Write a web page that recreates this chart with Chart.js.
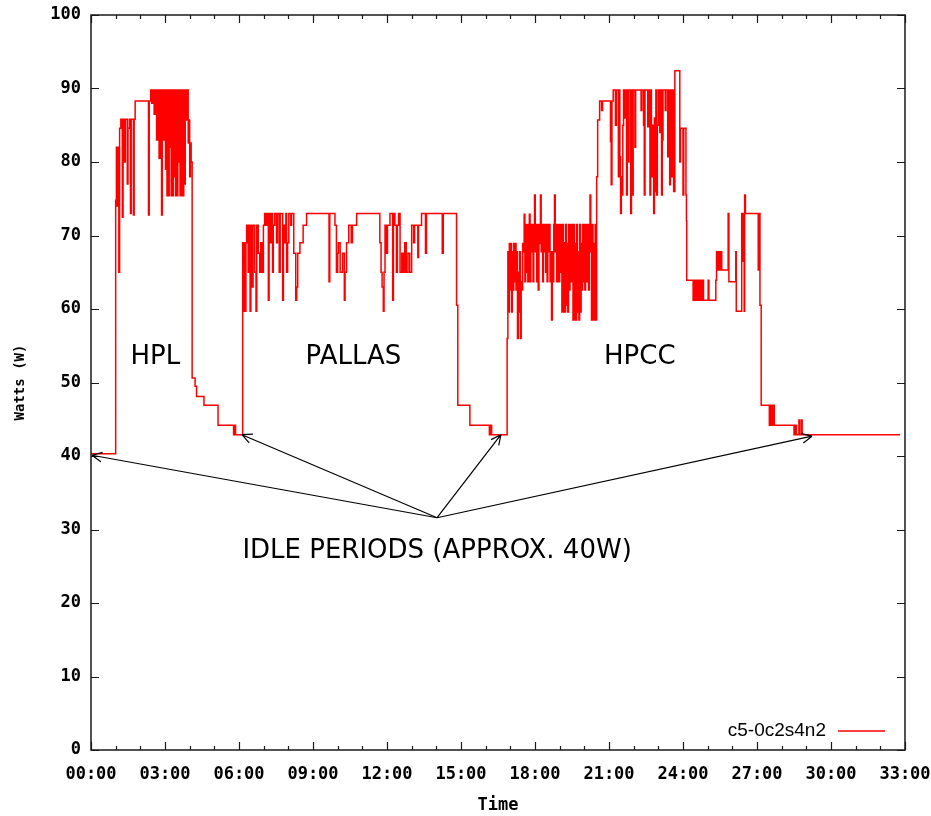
<!DOCTYPE html>
<html>
<head>
<meta charset="utf-8">
<title>c5-0c2s4n2 power trace</title>
<script src="https://cdn.jsdelivr.net/npm/chart.js@4.4.1/dist/chart.umd.min.js"></script>
<style>
  html, body { margin: 0; padding: 0; background: #fff; }
</style>
</head>
<body>
<canvas id="power-chart" width="931" height="816"></canvas>
<script>
// series name (legend)
const seriesName = 'c5-0c2s4n2';

// [time in hours, watts]
const idleBefore = [[0.00, 40.3]];

const hplTrace = [
  [1.00, 74.8], [1.03, 82.0], [1.06, 74.0], [1.09, 82.0], [1.13, 65.0], [1.16, 84.6],
  [1.21, 85.8], [1.27, 72.5], [1.30, 85.8], [1.36, 80.0], [1.39, 85.8], [1.47, 77.0],
  [1.50, 84.6], [1.55, 85.8], [1.60, 73.0], [1.63, 85.8], [1.72, 72.8], [1.75, 85.8],
  [1.79, 88.3], [2.33, 72.8], [2.36, 88.3], [2.42, 89.8], [2.46, 88.0], [2.50, 89.8],
  [2.56, 86.5], [2.60, 89.8], [2.66, 83.0], [2.70, 89.8], [2.76, 80.5], [2.80, 89.8],
  [2.86, 72.8], [2.89, 89.8], [2.95, 83.0], [2.98, 89.8], [3.02, 79.0], [3.05, 89.8],
  [3.08, 75.4], [3.11, 89.8], [3.14, 75.4], [3.17, 89.8], [3.19, 82.0], [3.22, 89.8],
  [3.25, 75.4], [3.28, 89.8], [3.31, 75.4], [3.34, 89.8], [3.37, 78.0], [3.40, 89.8],
  [3.43, 75.4], [3.46, 89.8], [3.49, 75.4], [3.52, 89.8], [3.55, 80.0], [3.58, 89.8],
  [3.61, 75.4], [3.64, 89.8], [3.67, 75.4], [3.70, 89.8], [3.73, 75.4], [3.76, 89.8],
  [3.79, 77.0], [3.82, 89.8], [3.87, 85.7], [3.91, 89.8], [3.94, 82.6], [3.97, 85.7],
  [4.00, 78.0], [4.03, 82.6], [4.06, 80.0], [4.10, 50.6], [4.22, 49.5], [4.28, 48.1],
  [4.58, 46.9], [5.15, 44.2], [5.78, 42.9], [5.80, 44.2], [5.82, 42.9], [5.84, 44.2],
  [5.86, 42.9]
];

const pallasTrace = [
  [6.15, 69.0], [6.19, 59.7], [6.22, 69.0], [6.26, 59.7], [6.28, 69.0], [6.31, 71.4],
  [6.37, 65.0], [6.40, 71.4], [6.45, 59.7], [6.48, 71.4], [6.54, 63.0], [6.57, 71.4],
  [6.64, 65.0], [6.69, 59.7], [6.72, 71.4], [6.78, 67.6], [6.84, 65.0], [6.88, 69.0],
  [6.94, 65.0], [6.99, 71.4], [7.04, 73.0], [7.09, 71.4], [7.14, 73.0], [7.19, 61.2],
  [7.22, 73.0], [7.27, 69.0], [7.31, 73.0], [7.36, 65.0], [7.39, 71.4], [7.45, 73.0],
  [7.52, 69.0], [7.56, 73.0], [7.63, 65.0], [7.67, 73.0], [7.77, 61.2], [7.80, 71.4],
  [7.86, 69.0], [7.90, 73.0], [7.93, 65.0], [7.97, 69.0], [8.02, 73.0], [8.10, 71.4],
  [8.13, 73.0], [8.22, 67.6], [8.30, 61.2], [8.34, 63.0], [8.38, 67.6], [8.47, 69.0],
  [8.60, 71.4], [8.74, 73.0], [9.65, 63.7], [9.68, 73.0], [9.89, 71.4], [9.95, 65.0],
  [10.00, 67.6], [10.03, 69.0], [10.10, 65.0], [10.20, 67.6], [10.27, 61.2], [10.30, 65.0],
  [10.36, 69.0], [10.45, 71.4], [10.55, 69.0], [10.60, 71.4], [10.77, 73.0], [11.71, 69.0],
  [11.76, 65.0], [11.80, 63.0], [11.85, 59.7], [11.88, 65.0], [11.92, 71.4], [11.98, 67.6],
  [12.02, 71.4], [12.12, 73.0], [12.23, 61.2], [12.26, 73.0], [12.32, 71.4], [12.38, 65.0],
  [12.42, 71.4], [12.47, 73.0], [12.53, 65.0], [12.60, 67.6], [12.66, 65.0], [12.72, 69.0],
  [12.78, 65.0], [12.85, 67.6], [12.92, 65.0], [13.00, 71.4], [13.08, 69.0], [13.12, 71.4],
  [13.25, 67.0], [13.28, 71.4], [13.40, 73.0], [13.56, 67.6], [13.60, 73.0], [14.24, 67.6],
  [14.28, 73.0], [14.82, 60.5], [14.87, 46.9], [15.36, 44.2], [16.15, 42.9], [16.20, 44.2],
  [16.24, 42.9]
];

const hpccTrace = [
  [16.87, 56.0], [16.90, 67.8], [16.93, 59.6], [16.96, 68.9], [16.99, 62.6], [17.02, 68.9],
  [17.05, 59.6], [17.08, 67.8], [17.11, 62.6], [17.14, 68.9], [17.17, 63.7], [17.20, 68.9],
  [17.23, 62.6], [17.26, 67.8], [17.29, 56.0], [17.32, 65.0], [17.35, 59.6], [17.38, 67.8],
  [17.41, 56.0], [17.44, 63.7], [17.47, 62.6], [17.50, 68.9], [17.53, 67.8], [17.56, 72.9],
  [17.59, 63.7], [17.62, 71.5], [17.65, 65.0], [17.68, 71.5], [17.71, 63.7], [17.74, 68.9],
  [17.77, 72.9], [17.80, 63.7], [17.83, 71.5], [17.86, 67.8], [17.89, 71.5], [17.92, 63.7],
  [17.95, 67.8], [17.98, 75.5], [18.01, 67.8], [18.04, 71.5], [18.07, 63.7], [18.10, 71.5],
  [18.13, 62.6], [18.16, 68.9], [18.19, 71.5], [18.22, 75.5], [18.25, 67.8], [18.28, 71.5],
  [18.31, 63.7], [18.34, 71.5], [18.37, 67.8], [18.40, 71.5], [18.43, 65.0], [18.46, 71.5],
  [18.49, 63.7], [18.52, 71.5], [18.55, 67.8], [18.58, 71.5], [18.61, 63.7], [18.64, 67.8],
  [18.67, 58.5], [18.70, 67.8], [18.73, 63.7], [18.76, 71.5], [18.79, 75.5], [18.82, 67.8],
  [18.85, 71.5], [18.88, 63.7], [18.91, 67.8], [18.94, 71.5], [18.97, 63.7], [19.00, 67.8],
  [19.03, 71.5], [19.06, 65.0], [19.09, 59.6], [19.12, 71.5], [19.15, 59.6], [19.18, 69.0],
  [19.21, 59.6], [19.24, 71.5], [19.27, 60.5], [19.30, 68.9], [19.33, 59.6], [19.36, 71.5],
  [19.39, 62.6], [19.42, 71.5], [19.45, 63.7], [19.48, 67.8], [19.51, 71.5], [19.54, 58.5],
  [19.57, 71.5], [19.60, 58.5], [19.63, 68.9], [19.66, 58.5], [19.69, 71.5], [19.72, 59.6],
  [19.75, 67.8], [19.78, 58.5], [19.81, 71.5], [19.84, 59.6], [19.87, 68.9], [19.90, 62.6],
  [19.93, 71.5], [19.96, 63.7], [19.99, 71.5], [20.02, 62.6], [20.05, 67.8], [20.08, 71.5],
  [20.11, 63.7], [20.14, 71.5], [20.17, 62.6], [20.20, 71.5], [20.23, 75.5], [20.26, 67.8],
  [20.29, 58.5], [20.32, 71.5], [20.35, 58.5], [20.38, 68.9], [20.41, 58.5], [20.44, 71.5],
  [20.47, 58.5], [20.50, 78.0], [20.54, 85.7], [20.62, 88.3], [20.70, 87.0], [20.74, 88.3],
  [21.06, 82.8], [21.09, 76.9], [21.12, 88.3], [21.17, 89.8], [21.26, 85.0], [21.30, 89.8],
  [21.38, 78.0], [21.41, 89.8], [21.44, 80.7], [21.47, 73.0], [21.50, 78.0], [21.53, 75.5],
  [21.56, 85.0], [21.59, 89.8], [21.65, 86.0], [21.68, 89.8], [21.71, 75.5], [21.74, 89.8],
  [21.78, 80.0], [21.81, 89.8], [21.88, 73.0], [21.91, 89.8], [21.95, 75.5], [21.98, 89.8],
  [22.05, 82.0], [22.08, 89.8], [22.30, 87.0], [22.33, 89.8], [22.40, 85.0], [22.43, 75.5],
  [22.46, 89.8], [22.57, 84.8], [22.62, 89.8], [22.66, 75.5], [22.69, 89.8], [22.72, 82.0],
  [22.75, 78.0], [22.78, 85.0], [22.81, 73.0], [22.84, 86.0], [22.87, 76.0], [22.90, 89.8],
  [22.93, 75.5], [22.96, 85.0], [23.00, 89.8], [23.06, 84.0], [23.09, 89.8], [23.13, 75.5],
  [23.16, 83.0], [23.19, 89.8], [23.28, 87.0], [23.31, 89.8], [23.38, 80.7], [23.41, 89.8],
  [23.46, 76.9], [23.49, 89.8], [23.52, 78.0], [23.58, 89.8], [23.62, 76.0], [23.67, 92.4],
  [23.87, 80.0], [23.90, 84.6], [24.00, 75.5], [24.03, 84.6], [24.12, 75.5], [24.14, 72.0],
  [24.15, 63.9], [24.41, 61.2], [24.44, 63.9], [24.47, 61.2], [24.50, 63.9], [24.53, 61.2],
  [24.56, 63.9], [24.59, 61.2], [24.62, 63.9], [24.65, 61.2], [24.68, 63.9], [24.71, 61.2],
  [24.74, 63.9], [24.77, 61.2], [24.80, 63.9], [24.83, 61.2], [25.02, 63.9], [25.05, 61.2],
  [25.33, 63.9], [25.36, 67.8], [25.39, 65.3], [25.42, 67.8], [25.45, 65.3], [25.48, 67.8],
  [25.51, 65.3], [25.54, 67.8], [25.57, 65.3], [25.83, 73.0], [25.86, 63.7], [26.14, 67.8],
  [26.16, 59.7], [26.38, 73.0], [26.44, 66.5], [26.46, 73.0], [26.48, 59.7], [26.50, 75.5],
  [26.53, 73.0], [27.05, 65.3], [27.08, 73.0], [27.12, 60.5], [27.17, 46.9], [27.50, 44.2],
  [27.53, 46.9], [27.56, 44.2], [27.59, 46.9], [27.62, 44.2], [27.65, 46.9], [27.70, 44.2],
  [28.50, 42.9], [28.55, 44.2], [28.60, 42.9], [28.70, 44.9], [28.73, 42.9], [28.80, 44.9],
  [28.83, 42.9], [32.80, 42.9]
];

// axis ticks
const xTickValues = [0, 3, 6, 9, 12, 15, 18, 21, 24, 27, 30, 33];
const xTickLabels = ['00:00', '03:00', '06:00', '09:00', '12:00', '15:00',
                     '18:00', '21:00', '24:00', '27:00', '30:00', '33:00'];
const yTickValues = [0, 10, 20, 30, 40, 50, 60, 70, 80, 90, 100];

// text labels placed in data coordinates [hours, watts]
const benchLabels = [
  { text: 'HPL', at: [2.61, 53.5] },
  { text: 'PALLAS', at: [10.64, 53.5] },
  { text: 'HPCC', at: [22.25, 53.5] },
  { text: 'IDLE PERIODS (APPROX. 40W)', at: [14.03, 27.1] }
];
const idleArrowFrom = [14.03, 31.6];
const idleArrowTo = [[0.04, 40.1], [6.12, 42.9], [16.62, 42.9], [29.23, 42.7]];

const monoFont = { family: "'DejaVu Sans Mono', monospace", size: 17, weight: 'bold' };

const trace = [].concat(idleBefore, hplTrace, pallasTrace, hpccTrace)
  .map(p => ({ x: p[0], y: p[1] }));

// gnuplot-ish frame, inward ticks, annotations and legend
const gnuplotDecor = {
  id: 'gnuplotDecor',
  afterDatasetsDraw(chart) {
    const ctx = chart.ctx;
    const xs = chart.scales.x;
    const ys = chart.scales.y;
    const a = chart.chartArea;
    ctx.save();

    // frame
    ctx.strokeStyle = '#1a1a1a';
    ctx.lineWidth = 1.5;
    ctx.strokeRect(a.left, a.top, a.right - a.left, a.bottom - a.top);

    // ticks (mirrored, pointing inward)
    ctx.lineWidth = 1.2;
    ctx.beginPath();
    for (let h = 0; h <= 33; h++) {
      const px = Math.round(xs.getPixelForValue(h)) + 0.5;
      const len = h % 3 === 0 ? 8 : 4;
      ctx.moveTo(px, a.bottom); ctx.lineTo(px, a.bottom - len);
      ctx.moveTo(px, a.top); ctx.lineTo(px, a.top + len);
    }
    yTickValues.forEach(v => {
      const py = Math.round(ys.getPixelForValue(v)) + 0.5;
      ctx.moveTo(a.left, py); ctx.lineTo(a.left + 8, py);
      ctx.moveTo(a.right, py); ctx.lineTo(a.right - 8, py);
    });
    ctx.stroke();

    // arrows to the idle periods
    const fx = xs.getPixelForValue(idleArrowFrom[0]);
    const fy = ys.getPixelForValue(idleArrowFrom[1]);
    ctx.strokeStyle = '#000';
    ctx.lineWidth = 1.2;
    idleArrowTo.forEach(t => {
      const tx = xs.getPixelForValue(t[0]);
      const ty = ys.getPixelForValue(t[1]);
      const ang = Math.atan2(ty - fy, tx - fx);
      const head = 11, spread = 0.45;
      ctx.beginPath();
      ctx.moveTo(fx, fy); ctx.lineTo(tx, ty);
      ctx.moveTo(tx, ty);
      ctx.lineTo(tx - head * Math.cos(ang - spread), ty - head * Math.sin(ang - spread));
      ctx.moveTo(tx, ty);
      ctx.lineTo(tx - head * Math.cos(ang + spread), ty - head * Math.sin(ang + spread));
      ctx.stroke();
    });

    // benchmark labels
    ctx.fillStyle = '#000';
    ctx.font = "26px 'DejaVu Sans', sans-serif";
    ctx.textAlign = 'center';
    ctx.textBaseline = 'middle';
    benchLabels.forEach(l => {
      ctx.fillText(l.text, xs.getPixelForValue(l.at[0]), ys.getPixelForValue(l.at[1]));
    });

    // legend, bottom right inside the frame
    const ly = a.bottom - 19;
    ctx.font = "19px 'Liberation Sans', Arial, sans-serif";
    ctx.textAlign = 'right';
    ctx.fillText(chart.data.datasets[0].label, a.right - 79, ly);
    ctx.strokeStyle = chart.data.datasets[0].borderColor;
    ctx.lineWidth = 1.5;
    ctx.beginPath();
    ctx.moveTo(a.right - 67, ly); ctx.lineTo(a.right - 20, ly);
    ctx.stroke();

    ctx.restore();
  }
};

new Chart(document.getElementById('power-chart'), {
  type: 'line',
  data: {
    datasets: [{
      label: seriesName,
      data: trace,
      borderColor: '#ff0000',
      borderWidth: 1.5,
      pointRadius: 0,
      stepped: 'before',
      fill: false
    }]
  },
  options: {
    responsive: false,
    animation: false,
    layout: { padding: { left: 0, right: 26, top: 15, bottom: 0 } },
    plugins: {
      legend: { display: false },
      tooltip: { enabled: false }
    },
    scales: {
      x: {
        type: 'linear',
        min: 0,
        max: 33,
        grid: { display: false, drawTicks: false },
        border: { display: false },
        afterBuildTicks: s => { s.ticks = xTickValues.map(v => ({ value: v })); },
        afterFit: s => { s.height = 66; s.paddingLeft = 0; s.paddingRight = 0; },
        ticks: {
          padding: 14,
          color: '#000',
          font: monoFont,
          autoSkip: false,
          maxRotation: 0,
          callback: (v, i) => xTickLabels[i]
        },
        title: {
          display: true,
          text: 'Time',
          color: '#000',
          font: monoFont,
          padding: { top: 0, bottom: 0 }
        }
      },
      y: {
        min: 0,
        max: 100,
        grid: { display: false, drawTicks: false },
        border: { display: false },
        afterBuildTicks: s => { s.ticks = yTickValues.map(v => ({ value: v })); },
        afterFit: s => { s.width = 91; s.paddingTop = 0; s.paddingBottom = 0; },
        ticks: {
          padding: 10,
          color: '#000',
          font: monoFont
        },
        title: {
          display: true,
          text: 'Watts (W)',
          color: '#000',
          font: { family: "'DejaVu Sans Mono', monospace", size: 14, weight: 'bold' },
          padding: { top: 12, bottom: 0 }
        }
      }
    }
  },
  plugins: [gnuplotDecor]
});
</script>
</body>
</html>
